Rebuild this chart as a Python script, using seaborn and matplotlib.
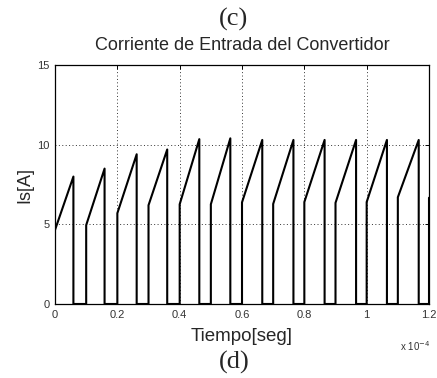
import matplotlib
matplotlib.use("Agg")
import matplotlib.pyplot as plt
import seaborn as sns
import numpy as np
import pandas as pd

# Data (time in units of 1e-4 s, current in A)
rise_times = [0.0, 0.1, 0.2, 0.3, 0.4, 0.5, 0.6, 0.7, 0.8, 0.9, 1.0, 1.1, 1.2]
fall_times = [0.059, 0.159, 0.262, 0.360, 0.463, 0.5625, 0.665, 0.765, 0.865, 0.966, 1.065, 1.167]
start_vals = [4.65, 4.95, 5.7, 6.2, 6.26, 6.26, 6.38, 6.28, 6.4, 6.35, 6.4, 6.7, 6.67]
peak_vals = [8.0, 8.5, 9.4, 9.7, 10.35, 10.4, 10.3, 10.3, 10.3, 10.3, 10.3, 10.3]
xticks = [0, 0.2, 0.4, 0.6, 0.8, 1.0, 1.2]
xtick_labels = ["0", "0.2", "0.4", "0.6", "0.8", "1", "1.2"]
yticks = [0, 5, 10, 15]

xs, ys = [], []
for i, tr in enumerate(rise_times):
    if i > 0:
        xs.append(tr); ys.append(0.0)
    xs.append(tr); ys.append(start_vals[i])
    if i < len(fall_times):
        xs.append(fall_times[i]); ys.append(peak_vals[i])
        xs.append(fall_times[i]); ys.append(0.0)
df = pd.DataFrame({"t": xs, "i": ys, "order": range(len(xs))})

sns.set_style("white")
plt.rcParams['font.family'] = ['Liberation Sans', 'DejaVu Sans']

fig = plt.figure(figsize=(4.37, 3.78), dpi=100)
ax = fig.add_axes([0.1259, 0.1958, 0.8558, 0.632])
sns.lineplot(data=df, x="t", y="i", sort=False, estimator=None, color="black",
             linewidth=1.5, ax=ax)
ax.set_xlim(0, 1.2)
ax.set_ylim(0, 15)
ax.set_xticks(xticks)
ax.set_xticklabels(xtick_labels)
ax.set_yticks(yticks)
ax.grid(True, linestyle=(0, (1, 2.5)), color="black", linewidth=0.7, alpha=0.8)
for s in ax.spines.values():
    s.set_visible(True)
    s.set_color("black")
    s.set_linewidth(0.9)
ax.tick_params(direction="in", length=3, width=0.7, labelsize=8, colors="black",
               top=True, right=True, pad=4)
for lab in ax.get_xticklabels() + ax.get_yticklabels():
    lab.set_color("#333333")
ax.set_xlabel("Tiempo[seg]", fontsize=13.5, labelpad=6)
ax.set_ylabel("Is[A]", fontsize=13, labelpad=3)
ax.set_title("Corriente de Entrada del Convertidor", fontsize=13, pad=11)
fig.text(0.95, 0.085, r"x 10$^{-4}$", fontsize=7, ha="center", va="center", color="#333333")
fig.text(0.535, 0.948, "(c)", fontsize=19, family=["Liberation Serif"], ha="center", va="center")
fig.text(0.535, 0.040, "(d)", fontsize=19, family=["Liberation Serif"], ha="center", va="center")
fig.savefig("out.png", dpi=100, facecolor="white")
